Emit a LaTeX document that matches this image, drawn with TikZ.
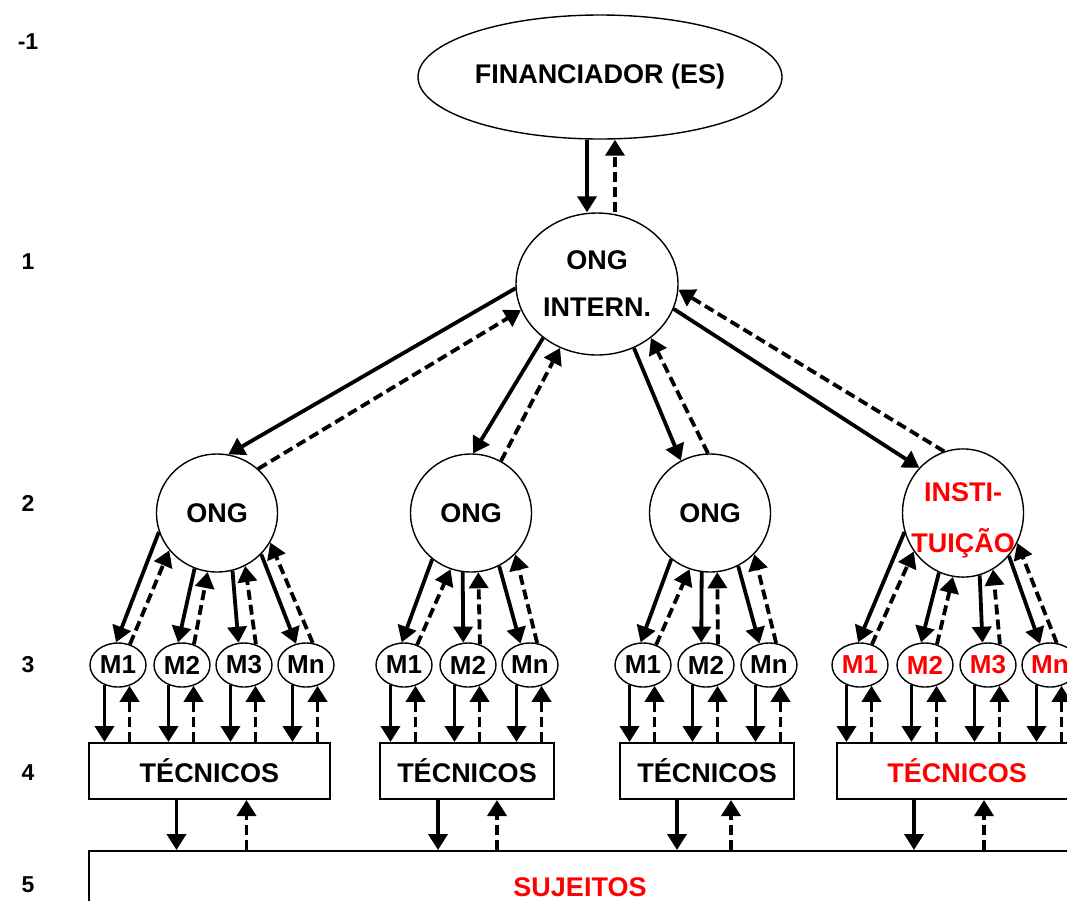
\documentclass[tikz,border=0pt]{standalone}
\usepackage{fontspec}
\setmainfont{Liberation Sans}
\usepackage{tikz}
\usetikzlibrary{positioning, arrows.meta, shapes.geometric}

\begin{document}
\begin{tikzpicture}[x=1pt, y=-1pt,
  lbl/.style={font=\bfseries\fontsize{27}{32}\selectfont},
  oval/.style={draw, ellipse, line width=1.4pt, inner sep=0pt, lbl},
  ongc/.style={oval, minimum width=121pt, minimum height=118pt},
  mbox/.style={oval, minimum width=56pt, minimum height=44pt, font=\bfseries\fontsize{26}{30}\selectfont},
  tbox/.style={draw, rectangle, line width=2pt, minimum height=56pt, lbl},
  sol/.style={line width=3.8pt, -{Triangle[length=16pt,width=19pt]}},
  das/.style={sol, dash pattern=on 10pt off 5pt},
  levnum/.style={font=\bfseries\fontsize{23}{28}\selectfont}]
\useasboundingbox (0,0) rectangle (1067,900);
\clip (0,0) rectangle (1067,900);
% Level numbers
\foreach \t/\y [count=\i] in {-1/42, 1/262, 2/503, 3/665, 4/773, 5/885}
  \node[levnum] (lev\i) at (28,\y) {\t};
% Top of the chain
\node[oval, minimum width=364pt, minimum height=124pt] (fin) at (600,77) {FINANCIADOR (ES)};
\node[oval, minimum width=162pt, minimum height=142pt, align=center] (ongi) at (597,284) {ONG\\[15pt]INTERN.};
% Level 2
\node[ongc] (ong1) at (217,513) {ONG};
\node[ongc] (ong2) at (471,513) {ONG};
\node[ongc] (ong3) at (710,513) {ONG};
\node[ongc, text=red, align=center] (inst) at (963,513) {\rule{0pt}{34pt}\makebox[0pt]{INSTI-}\\[19pt]\makebox[0pt]{TUIÇÃO}};
% Level 3
\foreach \m/\x/\t in {m11/118/M1, m12/182/M2, m13/244/M3, m1n/306/Mn,
                      m21/404/M1, m22/468/M2, m2n/530/Mn,
                      m31/643/M1, m32/706/M2, m3n/769/Mn}
  \node[mbox] (\m) at (\x,665) {\t};
\foreach \m/\x/\t in {m41/860/M1, m42/925/M2, m43/988/M3, m4n/1050/Mn}
  \node[mbox, text=red] (\m) at (\x,665) {\t};
% Level 4 and 5
\node[tbox, minimum width=241pt] (tec1) at (209.5,771) {TÉCNICOS};
\node[tbox, minimum width=174pt] (tec2) at (467,771) {TÉCNICOS};
\node[tbox, minimum width=174pt] (tec3) at (707,771) {TÉCNICOS};
\node[tbox, minimum width=240pt, text=red] (tec4) at (957,771) {TÉCNICOS};
\node[tbox, minimum width=982pt, minimum height=72pt, text=red] (suj) at (580,887) {SUJEITOS};
% Connectors
\draw[sol] ([xshift=-13]fin.south) -- ([xshift=-10]ongi.north);
\draw[das] ([xshift=18]ongi.north) -- ([xshift=15]fin.south);
\foreach \n/\a/\b/\c/\d in {ong1/183/79/47/199, ong2/225/88/60/240,
                            ong3/300/119/92/315, inst/342/134/107/356}{
  \draw[sol] (ongi.\a) -- (\n.\b);
  \draw[das] (\n.\c) -- (ongi.\d);
}
\foreach \p/\m/\a/\b/\c/\d in {ong1/m11/198/95/60/218, ong1/m12/248/100/60/261,
    ong1/m13/285/104/60/298, ong1/m1n/317/115/73/331,
    ong2/m21/230/96/57/250, ong2/m22/262/102/60/277, ong2/m2n/298/114/72/317,
    ong3/m31/230/96/57/250, ong3/m32/262/102/60/277, ong3/m3n/298/114/72/317,
    inst/m41/198/95/60/218, inst/m42/248/100/60/261,
    inst/m43/285/104/60/298, inst/m4n/317/115/73/331}{
  \draw[sol] (\p.\a) -- (\m.\b);
  \draw[das] (\m.\c) -- (\p.\d);
}
\foreach \m/\t in {m11/tec1, m12/tec1, m13/tec1, m1n/tec1, m21/tec2, m22/tec2, m2n/tec2,
                   m31/tec3, m32/tec3, m3n/tec3, m41/tec4, m42/tec4, m43/tec4, m4n/tec4}{
  \draw[sol] (\m.236) -- (\m.236 |- \t.north);
  \draw[das] (\m.299 |- \t.north) -- (\m.299);
}
\foreach \t/\a/\b in {tec1/-33/37, tec2/-29/30, tec3/-30/24, tec4/-43/27}{
  \draw[sol] ([xshift=\a]\t.south) -- ([xshift=\a]\t.south |- suj.north);
  \draw[das] ([xshift=\b]\t.south |- suj.north) -- ([xshift=\b]\t.south);
}
\end{tikzpicture}
\end{document}
